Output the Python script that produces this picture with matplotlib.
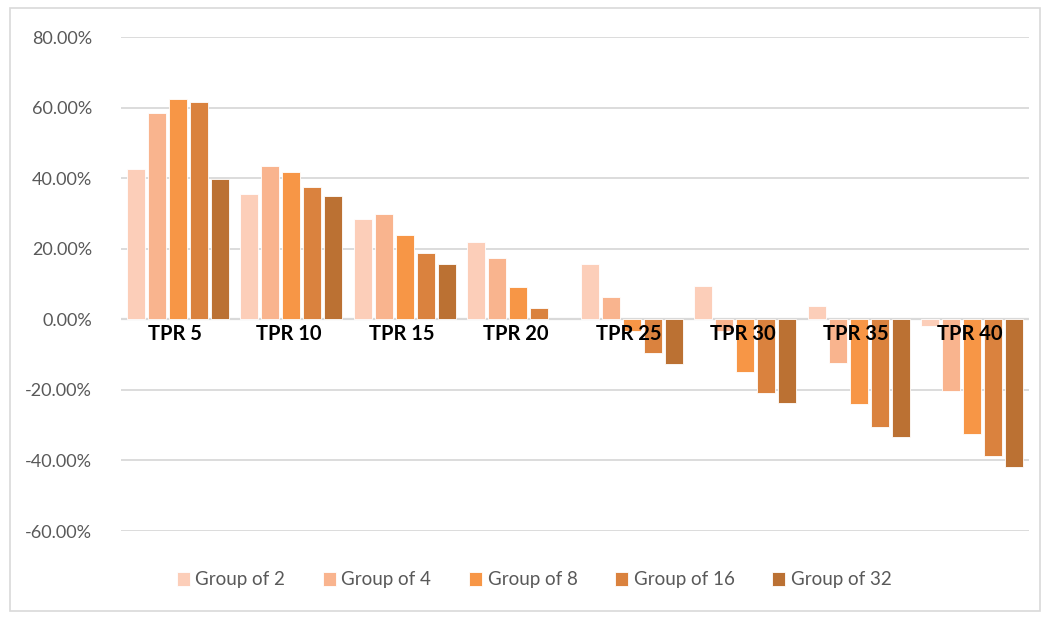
import matplotlib
matplotlib.use("Agg")
import matplotlib.pyplot as plt
from matplotlib.patches import Rectangle
from matplotlib.ticker import FuncFormatter
import numpy as np

categories = ["TPR 5", "TPR 10", "TPR 15", "TPR 20", "TPR 25", "TPR 30", "TPR 35", "TPR 40"]
series_names = ["Group of 2", "Group of 4", "Group of 8", "Group of 16", "Group of 32"]
group2 = [42.5, 35.5, 28.5, 22.0, 15.8, 9.5, 3.8, -1.8]
group4 = [58.5, 43.3, 29.7, 17.5, 6.4, -3.3, -12.3, -20.3]
group8 = [62.5, 41.6, 24.0, 9.2, -3.3, -14.8, -24.0, -32.5]
group16 = [61.5, 37.6, 18.7, 3.3, -9.5, -20.8, -30.5, -38.8]
group32 = [39.8, 34.8, 15.7, 0.0, -12.8, -23.8, -33.5, -42.0]
yticks = [-60, -40, -20, 0, 20, 40, 60, 80]

colors = ["#FCCEB9", "#F9B48E", "#F79646", "#DA823E", "#BB7133"]
all_series = [group2, group4, group8, group16, group32]

W, H = 1049, 619
fig = plt.figure(figsize=(W / 100, H / 100), dpi=100)
fig.patches.append(Rectangle((10 / W, 1 - 611 / H), 1030 / W, 603 / H,
                             transform=fig.transFigure, fill=False,
                             edgecolor="#D9D9D9", linewidth=1.2))

left, right = 121, 1029
top, bottom = 37, 531
ax = fig.add_axes([left / W, 1 - bottom / H, (right - left) / W, (bottom - top) / H])

x = np.arange(len(categories))
step = 0.185
width = 0.155
for i, (vals, name, c) in enumerate(zip(all_series, series_names, colors)):
    bars = ax.bar(x + (i - 2) * step, vals, width=width, color=c, label=name,
                  edgecolor="white", linewidth=0.6, zorder=3)
    for b, v in zip(bars, vals):
        if v == 0:
            b.set_linewidth(0)

ax.set_xlim(-0.5, len(categories) - 0.5)
ax.set_ylim(-60, 80)
ax.set_yticks(yticks)
ax.yaxis.set_major_formatter(FuncFormatter(lambda v, p: f"{v:.2f}%"))
ax.tick_params(axis="y", length=0, pad=21, labelsize=13, labelcolor="#595959")
for lab in ax.get_yticklabels():
    lab.set_family(["Lato", "DejaVu Sans"])
ax.set_xticks([])
ax.grid(axis="y", color="#D9D9D9", linewidth=1.3, zorder=0)
ax.axhline(0, color="#D9D9D9", linewidth=1.6, zorder=2)
for s in ax.spines.values():
    s.set_visible(False)

for xi, cat in zip(x, categories):
    ax.annotate(cat, (xi, 0), xytext=(-2, -10.5), textcoords="offset points",
                ha="center", va="center", fontsize=14.5, fontweight="bold",
                color="black", family=["Lato", "DejaVu Sans"], zorder=5)

leg = fig.legend(loc="center", bbox_to_anchor=(534 / W, 1 - 580 / H), ncol=5,
                 frameon=False, handlelength=0.7, handleheight=0.7,
                 handletextpad=0.3, columnspacing=2.0,
                 prop={"family": ["Lato", "DejaVu Sans"], "size": 13.5})
for t in leg.get_texts():
    t.set_color("#595959")

fig.savefig("out.png", dpi=100)
